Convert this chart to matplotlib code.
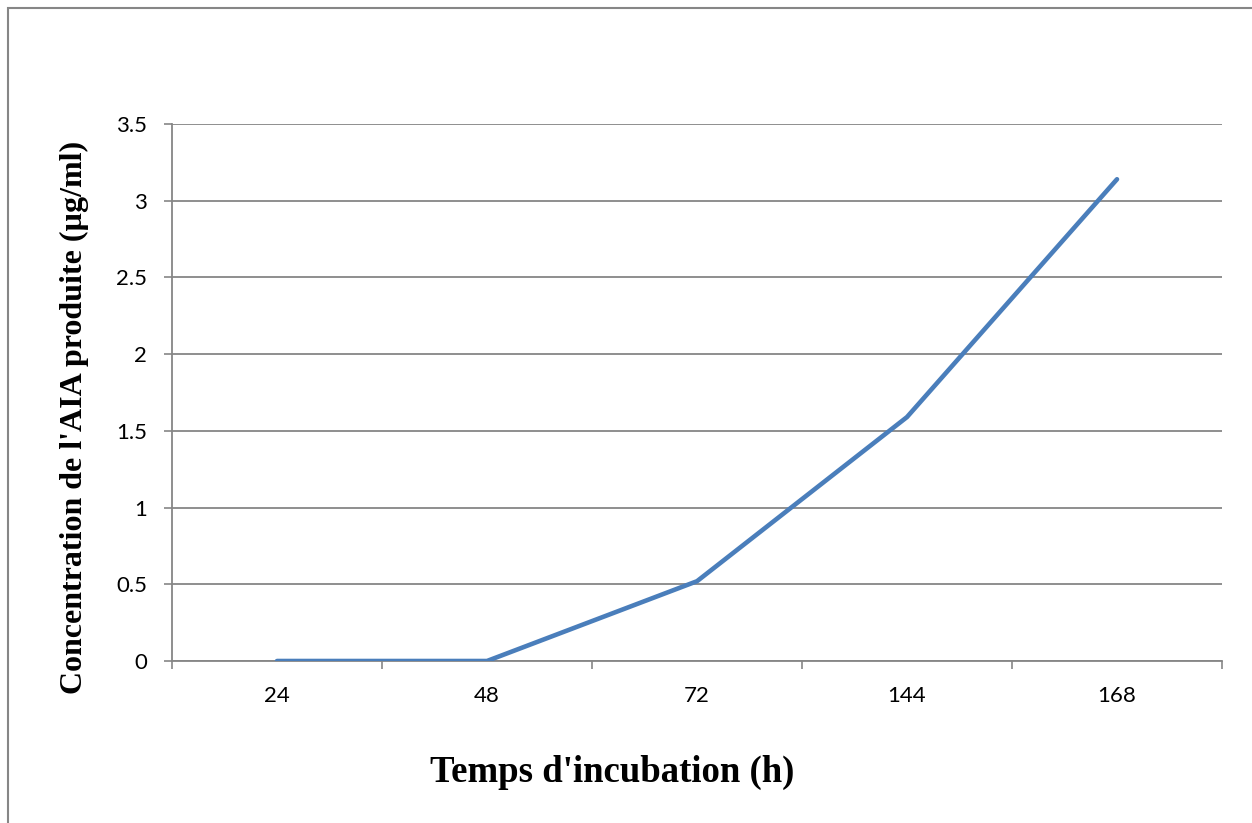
import matplotlib.pyplot as plt
from matplotlib.patches import Rectangle
import numpy as np

# données
temps = ["24", "48", "72", "144", "168"]
concentration = [0.0, 0.0, 0.52, 1.59, 3.14]
y_ticks = [0, 0.5, 1, 1.5, 2, 2.5, 3, 3.5]
y_tick_labels = ["0", "0.5", "1", "1.5", "2", "2.5", "3", "3.5"]

W, H = 1252, 823
gris = "#868686"

fig = plt.figure(figsize=(W / 100, H / 100), dpi=100)
ax = fig.add_axes([172 / W, (H - 661) / H, (1222 - 172) / W, (661 - 124) / H])

# cadre extérieur (seuls les bords gauche et haut sont visibles)
fig.patches.append(Rectangle((8 / W, -0.1), 1.2, (H - 8) / H + 0.1,
                             transform=fig.transFigure, fill=False,
                             edgecolor=gris, linewidth=1.5))

x = np.arange(len(temps))
ax.plot(x, concentration, color="#4a7ebb", linewidth=3.3,
        solid_capstyle="round", solid_joinstyle="miter", zorder=3)

ax.set_xlim(-0.5, len(temps) - 0.5)
ax.set_ylim(0, 3.5)

# graduations entre les catégories, étiquettes au centre
ax.set_xticks(np.arange(-0.5, len(temps), 1.0))
ax.set_xticklabels([])
ax.set_xticks(x, minor=True)
ax.set_xticklabels(temps, minor=True, fontsize=16, family="Lato")
ax.tick_params(axis="x", which="major", direction="out", length=6,
               width=1.2, color=gris)
ax.tick_params(axis="x", which="minor", length=0, pad=18)

ax.set_yticks(y_ticks)
ax.set_yticklabels(y_tick_labels, fontsize=16, family="Lato")
ax.tick_params(axis="y", direction="out", length=6, width=1.2,
               color=gris, pad=12)

ax.grid(axis="y", color=gris, linewidth=1.3)
ax.set_axisbelow(True)
for s in ["top", "right"]:
    ax.spines[s].set_visible(False)
for s in ["left", "bottom"]:
    ax.spines[s].set_color(gris)
    ax.spines[s].set_linewidth(1.3)

fig.text(612 / W, 1 - 772 / H, "Temps d'incubation (h)", ha="center",
         va="center", fontsize=26.5, fontweight="bold", family="Liberation Serif")
fig.text(74 / W, 1 - 417 / H, "Concentration de l'AIA produite (µg/ml)",
         ha="center", va="center", rotation=90, fontsize=23,
         fontweight="bold", family="Liberation Serif")

fig.savefig("out.png", dpi=100)
